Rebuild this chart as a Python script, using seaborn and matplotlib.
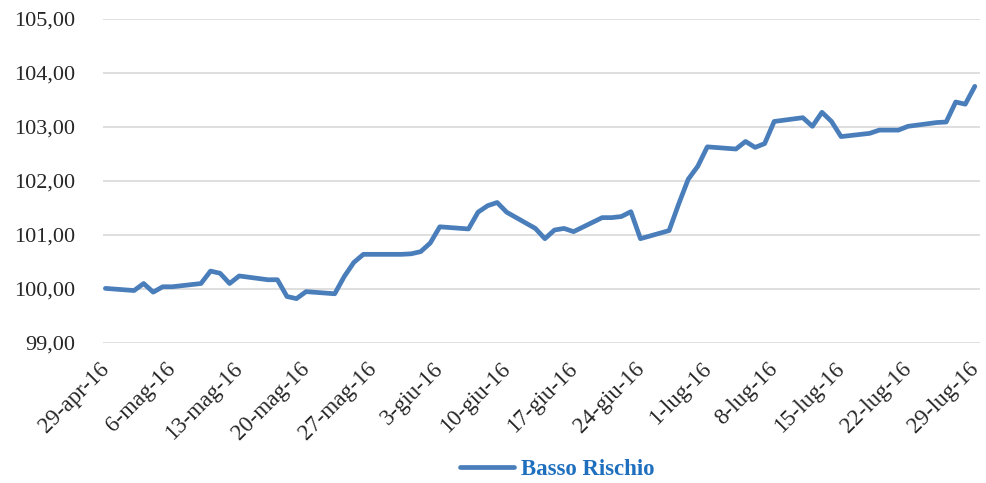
import pandas as pd
import matplotlib
matplotlib.use('Agg')
import matplotlib.pyplot as plt
from matplotlib.transforms import ScaledTranslation
import seaborn as sns

# Basso Rischio, valori giornalieri (giorni lavorativi)
dates = ['2016-04-29', '2016-05-02', '2016-05-03', '2016-05-04', '2016-05-05', '2016-05-06',
         '2016-05-09', '2016-05-10', '2016-05-11', '2016-05-12', '2016-05-13',
         '2016-05-16', '2016-05-17', '2016-05-18', '2016-05-19', '2016-05-20',
         '2016-05-23', '2016-05-24', '2016-05-25', '2016-05-26', '2016-05-27',
         '2016-05-30', '2016-05-31', '2016-06-01', '2016-06-02', '2016-06-03',
         '2016-06-06', '2016-06-07', '2016-06-08', '2016-06-09', '2016-06-10',
         '2016-06-13', '2016-06-14', '2016-06-15', '2016-06-16', '2016-06-17',
         '2016-06-20', '2016-06-21', '2016-06-22', '2016-06-23', '2016-06-24',
         '2016-06-27', '2016-06-28', '2016-06-29', '2016-06-30', '2016-07-01',
         '2016-07-04', '2016-07-05', '2016-07-06', '2016-07-07', '2016-07-08',
         '2016-07-11', '2016-07-12', '2016-07-13', '2016-07-14', '2016-07-15',
         '2016-07-18', '2016-07-19', '2016-07-20', '2016-07-21', '2016-07-22',
         '2016-07-25', '2016-07-26', '2016-07-27', '2016-07-28', '2016-07-29']
values = [100.01, 99.97, 100.10, 99.94, 100.04, 100.04,
          100.10, 100.33, 100.29, 100.10, 100.24,
          100.17, 100.17, 99.86, 99.82, 99.95,
          99.91, 100.23, 100.49, 100.64, 100.64,
          100.64, 100.65, 100.69, 100.85, 101.15,
          101.11, 101.42, 101.54, 101.60, 101.42,
          101.12, 100.93, 101.09, 101.12, 101.06,
          101.32, 101.32, 101.34, 101.43, 100.93,
          101.08, 101.57, 102.03, 102.27, 102.63,
          102.59, 102.73, 102.62, 102.69, 103.10,
          103.17, 103.01, 103.27, 103.10, 102.82,
          102.88, 102.94, 102.94, 102.94, 103.01,
          103.08, 103.09, 103.46, 103.42, 103.75]

tick_dates = ['2016-04-29', '2016-05-06', '2016-05-13', '2016-05-20', '2016-05-27',
              '2016-06-03', '2016-06-10', '2016-06-17', '2016-06-24', '2016-07-01',
              '2016-07-08', '2016-07-15', '2016-07-22', '2016-07-29']
tick_labels = ['29-apr-16', '6-mag-16', '13-mag-16', '20-mag-16', '27-mag-16',
               '3-giu-16', '10-giu-16', '17-giu-16', '24-giu-16', '1-lug-16',
               '8-lug-16', '15-lug-16', '22-lug-16', '29-lug-16']
y_ticks = [99, 100, 101, 102, 103, 104, 105]

df = pd.DataFrame({'Data': pd.to_datetime(dates), 'Valore': values, 'Serie': 'Basso Rischio'})

sns.set_style('white')
plt.rcParams['font.family'] = ['Liberation Serif', 'DejaVu Serif']

fig = plt.figure(figsize=(9.86, 4.83), dpi=100)
ax = fig.add_axes([0.1045, 0.29, 0.889, 0.671])

sns.lineplot(data=df, x='Data', y='Valore', hue='Serie', palette=['#4a7ebb'],
             linewidth=3.4, ax=ax, legend=False)

ax.set_xlim(pd.Timestamp('2016-04-28 18:00'), pd.Timestamp('2016-07-29 12:00'))
ax.set_ylim(99, 105)
ax.tick_params(axis='both', length=0)
ax.tick_params(axis='y', pad=20)
ax.tick_params(axis='x', pad=11)
ax.set_yticks(y_ticks)
ax.set_yticklabels([f'{v:.2f}'.replace('.', ',') for v in y_ticks], fontsize=16)
ax.set_xticks(pd.to_datetime(tick_dates))
ax.set_xticklabels(tick_labels, rotation=45, ha='right', rotation_mode='anchor', fontsize=16.5)
# shift the rotated date labels a little to the left
shift = ScaledTranslation(-5 / 72, 0, fig.dpi_scale_trans)
for lab in ax.get_xticklabels():
    lab.set_transform(lab.get_transform() + shift)
ax.grid(axis='y', color='#d9d9d9', linewidth=1.2)
ax.set_axisbelow(True)
for s in ax.spines.values():
    s.set_visible(False)
ax.set_xlabel('')
ax.set_ylabel('')

handle = plt.Line2D([], [], color='#4a7ebb', linewidth=3.4)
leg = fig.legend([handle], ['Basso Rischio'], loc='center', bbox_to_anchor=(0.565, 0.027),
                 frameon=False, handlelength=2.35, handletextpad=0.3,
                 prop={'family': 'Liberation Serif', 'weight': 'bold', 'size': 16.5})
for t in leg.get_texts():
    t.set_color('#1f6fbf')

fig.savefig('out.png', dpi=100)
